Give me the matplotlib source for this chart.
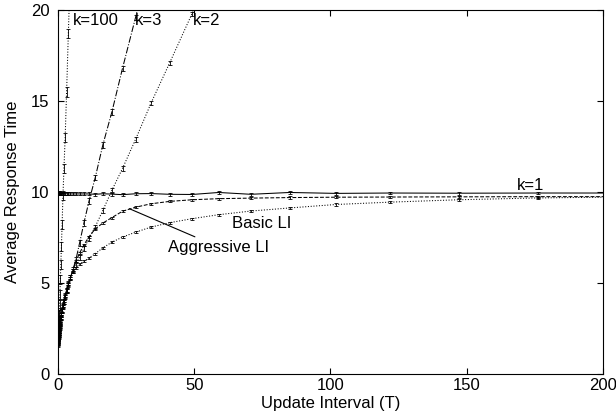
import matplotlib
matplotlib.use("Agg")
from matplotlib import pyplot as plt

plt.rcParams['font.family'] = ['Liberation Sans', 'DejaVu Sans']
plt.rcParams['font.size'] = 12

# update intervals (T) at which every curve was sampled
T = [0.10, 0.12, 0.14, 0.17, 0.21, 0.25, 0.30, 0.36, 0.43, 0.52, 0.62, 0.74,
     0.89, 1.07, 1.28, 1.54, 1.85, 2.22, 2.66, 3.19, 3.83, 4.60, 5.52, 6.62,
     7.95, 9.54, 11.4, 13.7, 16.5, 19.8, 23.7, 28.5, 34.2, 41.0, 49.2, 59.0,
     70.8, 85.0, 102, 122, 147, 176, 211]

# shared start of the curves at small T
low_T = [1.70, 1.75, 1.85, 1.95, 2.00, 2.10, 2.20, 2.30, 2.40, 2.50, 2.60, 2.75,
         2.90, 3.10, 3.30, 3.50, 3.75, 4.00, 4.30, 4.60, 4.95, 5.30]

k1 = [10.0, 10.0, 10.0, 9.98, 9.98, 9.97, 9.97, 9.96, 9.96, 9.95, 9.95, 9.94,
      9.94, 9.93, 9.93, 9.92, 9.92, 9.92, 9.91, 9.91, 9.90, 9.90, 9.90, 9.90,
      9.90, 9.90, 9.90, 9.88, 9.91, 9.89, 9.86, 9.91, 9.92, 9.88, 9.87, 9.98,
      9.88, 9.98, 9.93, 9.95, 9.94, 9.95, 9.95]
basic_li = low_T + [5.60, 5.85, 6.05, 6.20, 6.38, 6.62, 6.94, 7.25, 7.53, 7.80,
                    8.08, 8.32, 8.54, 8.76, 8.96, 9.13, 9.32, 9.45, 9.58, 9.68, 9.74]
aggressive_li = low_T + [5.70, 6.20, 6.65, 7.10, 7.55, 7.98, 8.30, 8.60, 8.95, 9.17,
                         9.36, 9.49, 9.58, 9.64, 9.67, 9.70, 9.72, 9.73, 9.74, 9.75, 9.75]
k3 = low_T + [5.75, 6.30, 7.20, 8.30, 9.50, 10.8, 12.6, 14.4, 16.8, 19.6, 23.0]
k2 = low_T + [5.65, 6.00, 6.40, 6.90, 7.45, 8.10, 9.00, 10.1, 11.3, 12.9, 14.9,
              17.1, 19.8, 23.0]
k100 = [1.75, 1.85, 1.95, 2.05, 2.20, 2.35, 2.50, 2.70, 2.95, 3.30, 3.80, 4.40,
        5.20, 6.00, 7.00, 8.20, 9.80, 11.3, 13.0, 15.5, 18.7, 22.5]

fig = plt.figure(figsize=(6.16, 4.19), dpi=100, facecolor='w')
ax = fig.add_axes([0.094, 0.107, 0.885, 0.869])

def curve(y, style, err):
    ax.errorbar(T[:len(y)], y, yerr=err, fmt=style, color='k', lw=0.75,
                elinewidth=0.6, capsize=1.5, capthick=0.6)

curve(k1, '-', 0.08)
curve(aggressive_li, '--', 0.06)
curve(basic_li, ':', 0.06)
curve(k3, '-.', 0.15)
curve(k2, ':', 0.12)
curve(k100, ':', 0.25)

ax.set_xlim(0, 200)
ax.set_ylim(0, 20)
ax.set_xticks([0, 50, 100, 150, 200])
ax.set_yticks([0, 5, 10, 15, 20])
ax.tick_params(direction='in', top=True, right=True, length=4)
ax.tick_params(axis='y', pad=6)
ax.tick_params(axis='x', pad=3)
ax.set_xlabel("Update Interval (T)", labelpad=2)
ax.set_ylabel("Average Response Time", labelpad=8)

ax.text(5.5, 19.45, "k=100", va='center')
ax.text(28.3, 19.45, "k=3", va='center')
ax.text(49.5, 19.45, "k=2", va='center')
ax.text(168.5, 10.35, "k=1", va='center')
ax.text(63.7, 8.26, "Basic LI", va='center')
ax.annotate("Aggressive LI", xy=(26.2, 9.09), xytext=(40.5, 6.98), va='center',
            arrowprops=dict(arrowstyle='-', lw=0.8, color='k', shrinkA=0, shrinkB=0))

fig.savefig("out.png", dpi=100)
